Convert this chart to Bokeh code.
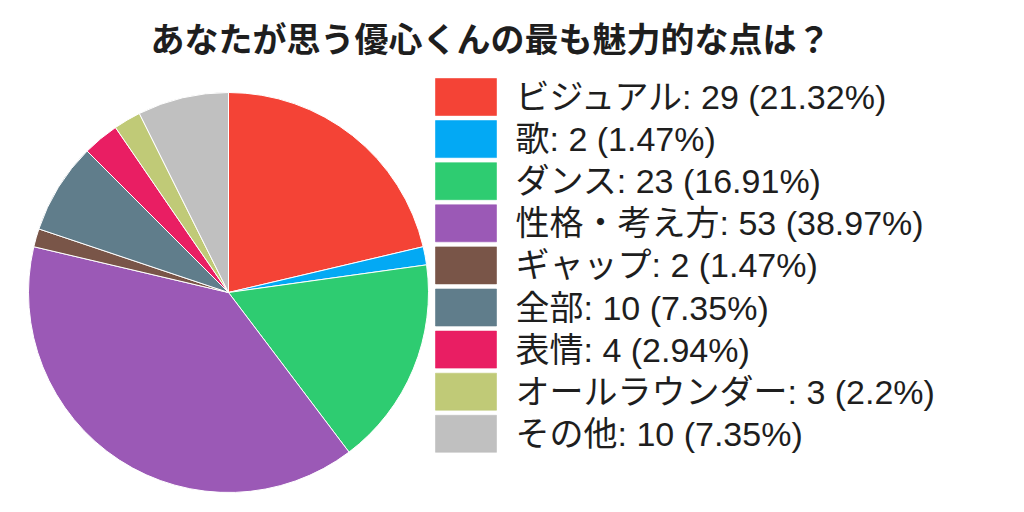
import numpy as np
from bokeh.plotting import figure
from bokeh.models import Range1d, ColumnDataSource
from bokeh.core.properties import value
from bokeh.embed import file_html
from bokeh.resources import INLINE

title = "あなたが思う優心くんの最も魅力的な点は？"
labels = ["ビジュアル", "歌", "ダンス", "性格・考え方", "ギャップ", "全部", "表情", "オールラウンダー", "その他"]
counts = [29, 2, 23, 53, 2, 10, 4, 3, 10]
pct_labels = ["21.32", "1.47", "16.91", "38.97", "1.47", "7.35", "2.94", "2.2", "7.35"]
colors = ["#F44336", "#03A9F4", "#2ECC71", "#9B59B6", "#795548",
          "#607D8B", "#E91E63", "#C0CA77", "#C0C0C0"]

FONT = "Liberation Sans, Noto Sans CJK JP"
TITLE_FONT = "Noto Sans CJK JP"
W, H = 1008, 496

# pie angles, clockwise from 12 o'clock
vals = np.array(counts, dtype=float)
frac = np.cumsum(vals) / vals.sum()
frac_prev = np.concatenate([[0.0], frac[:-1]])
start = np.pi / 2 - frac * 2 * np.pi
end = np.pi / 2 - frac_prev * 2 * np.pi

pie = ColumnDataSource(dict(start=start, end=end, color=colors))

legend_text = [f"{l}: {c} ({p}%)" for l, c, p in zip(labels, counts, pct_labels)]
row = np.arange(len(labels))
leg = ColumnDataSource(dict(
    y=399.5 - row * 42.1,
    text=legend_text,
    color=colors,
))

p = figure(width=W, height=H, x_range=Range1d(0, W), y_range=Range1d(0, H),
           output_backend="svg", toolbar_location=None, tools="",
           min_border=0, outline_line_color=None)
p.axis.visible = False
p.grid.visible = False
p.background_fill_color = "white"

p.wedge(x=228, y=204, radius=200, start_angle="start", end_angle="end",
        fill_color="color", line_color="white", line_width=1, source=pie)

p.rect(x=465.5, y="y", width=61, height=37, fill_color="color",
       line_color="color", line_alpha=0.6, line_width=1, source=leg)
p.text(x=515, y="y", text="text", source=leg, text_font=value(FONT),
       text_font_size="34px", text_color="#1e1e1e",
       text_baseline="middle", text_align="left")

p.text(x=[490], y=[459], text=[title], text_font=value(TITLE_FONT),
       text_font_size="34px", text_font_style="bold", text_color="#1e1e1e",
       text_baseline="middle", text_align="center")

open("out.html", "w").write(file_html(p, INLINE))
